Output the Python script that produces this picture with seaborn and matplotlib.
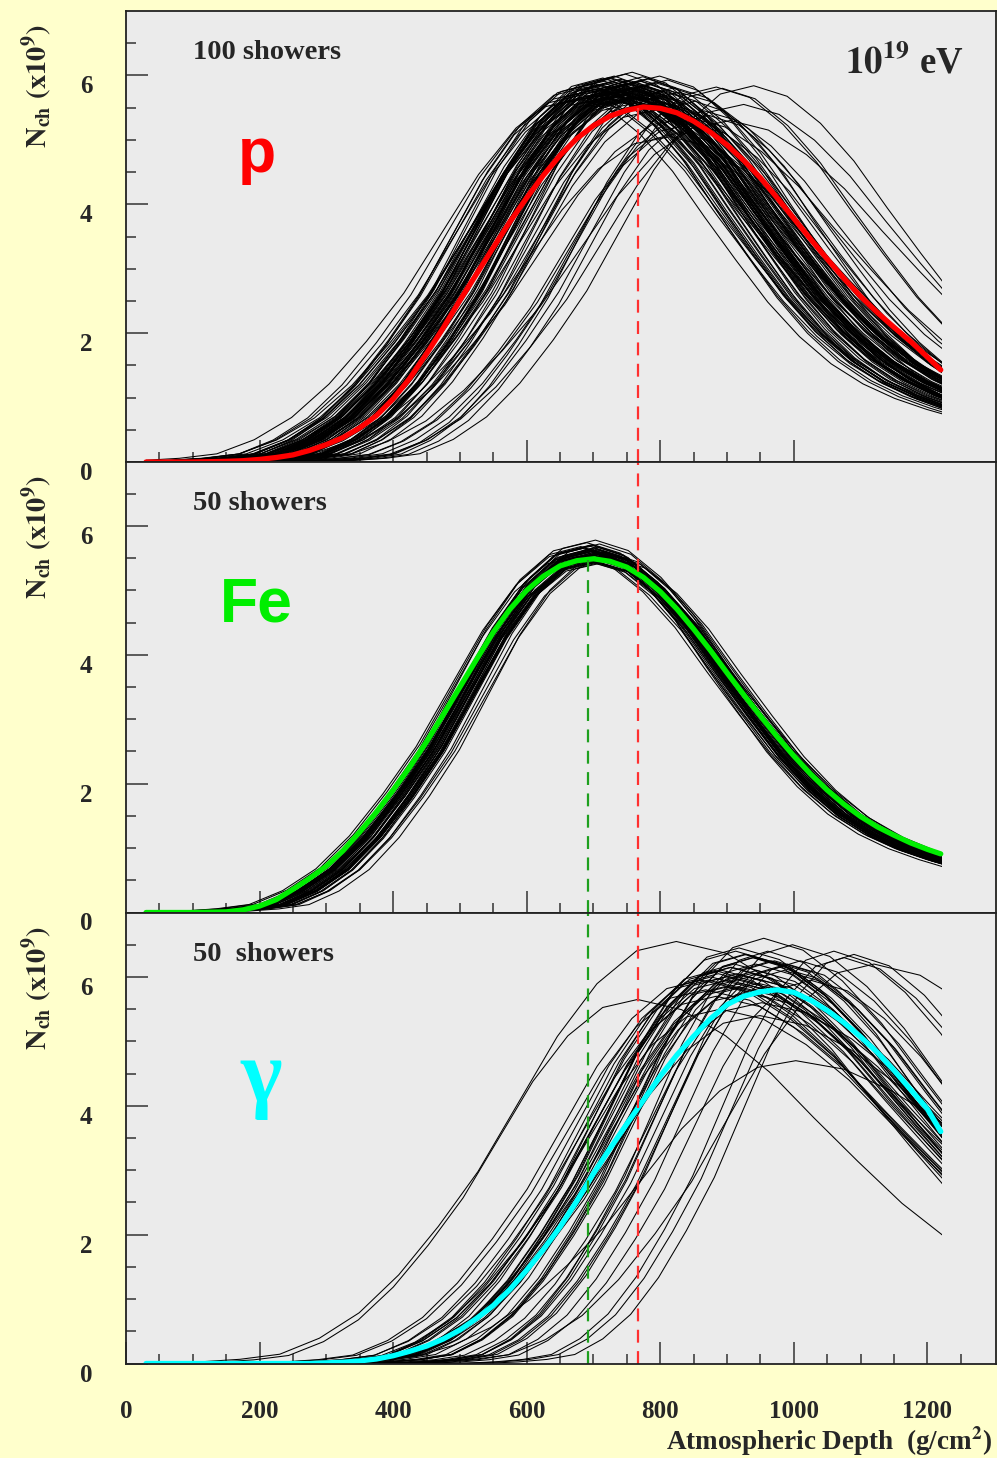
import numpy as np
import pandas as pd
import matplotlib
matplotlib.use("Agg")
import matplotlib.pyplot as plt
import seaborn as sns
from matplotlib.patches import Rectangle

# ---------------- data ----------------
depth = [30, 100, 150, 175, 200, 225, 250, 275, 300, 325, 350, 375, 400, 425, 450, 475,
         500, 525, 550, 575, 600, 625, 650, 675, 700, 725, 750, 775, 800, 825, 850, 875,
         900, 925, 950, 975, 1000, 1025, 1050, 1075, 1100, 1125, 1150, 1175, 1200, 1220]

p_mean = [0.00, 0.00, 0.01, 0.02, 0.04, 0.07, 0.11, 0.18, 0.27, 0.38, 0.53, 0.72, 0.98, 1.30,
          1.68, 2.08, 2.51, 2.92, 3.33, 3.73, 4.10, 4.45, 4.76, 5.02, 5.22, 5.37, 5.46, 5.51,
          5.49, 5.42, 5.29, 5.12, 4.92, 4.68, 4.41, 4.10, 3.78, 3.46, 3.15, 2.85, 2.57, 2.32,
          2.09, 1.87, 1.63, 1.43]

fe_mean = [0.00, 0.00, 0.01, 0.04, 0.10, 0.20, 0.36, 0.53, 0.72, 0.96, 1.25, 1.56, 1.90, 2.26,
           2.65, 3.07, 3.50, 3.93, 4.35, 4.71, 5.00, 5.22, 5.38, 5.46, 5.49, 5.45, 5.36, 5.20,
           4.98, 4.71, 4.40, 4.07, 3.72, 3.38, 3.05, 2.73, 2.43, 2.15, 1.90, 1.68, 1.49, 1.33,
           1.20, 1.08, 0.98, 0.91]

g_mean = [0.00, 0.00, 0.00, 0.00, 0.00, 0.00, 0.00, 0.00, 0.01, 0.02, 0.04, 0.07, 0.12, 0.19,
          0.27, 0.38, 0.52, 0.70, 0.90, 1.15, 1.45, 1.77, 2.12, 2.52, 2.95, 3.34, 3.72, 4.09,
          4.46, 4.79, 5.08, 5.35, 5.57, 5.70, 5.77, 5.80, 5.76, 5.64, 5.48, 5.29, 5.07, 4.83,
          4.55, 4.25, 3.95, 3.60]

# normalised single-shower profile vs. distance from shower maximum
shape_dx = [-900, -850, -800, -750, -700, -650, -600, -550, -500, -450, -400, -350, -300,
            -250, -200, -150, -100, -50, 0, 50, 100, 150, 200, 250, 300, 350, 400, 450,
            500, 550, 600, 650, 700]
shape_s = [0.0, 0.0, 0.0, 0.0, 0.0, 0.001, 0.004, 0.010, 0.022, 0.060, 0.120, 0.210, 0.325,
           0.455, 0.615, 0.775, 0.900, 0.978, 1.000, 0.972, 0.900, 0.800, 0.675, 0.555,
           0.440, 0.345, 0.270, 0.215, 0.175, 0.145, 0.120, 0.100, 0.085]

# per-shower depth of maximum, size at maximum, width factor
p_xmax = [712, 745, 768, 733, 801, 726, 759, 690, 842, 751,
          738, 774, 705, 761, 729, 815, 748, 696, 783, 740,
          756, 721, 866, 737, 770, 708, 792, 744, 727, 905,
          763, 716, 750, 787, 731, 684, 822, 757, 742, 776,
          719, 811, 753, 735, 699, 778, 746, 884, 724, 765,
          739, 797, 710, 758, 852, 730, 772, 743, 688, 807,
          749, 718, 781, 736, 925, 760, 723, 794, 741, 702,
          769, 832, 754, 714, 747, 786, 734, 676, 762, 828,
          743, 706, 775, 873, 732, 752, 719, 799, 766, 738,
          893, 727, 755, 815, 744, 693, 771, 848, 758, 940]
p_nmax = [5.85, 5.70, 5.92, 5.78, 5.60, 5.95, 5.66, 5.82, 5.35, 5.88,
          5.74, 5.98, 5.69, 5.81, 5.90, 5.52, 6.02, 5.76, 5.71, 5.64,
          5.86, 5.72, 5.45, 5.93, 5.67, 5.80, 5.89, 5.58, 5.84, 5.30,
          5.77, 5.91, 5.63, 5.75, 5.99, 5.70, 5.81, 5.87, 5.73, 5.56,
          5.66, 5.93, 5.79, 5.62, 5.88, 5.83, 5.71, 5.82, 5.97, 5.68,
          5.85, 5.47, 5.78, 6.05, 5.60, 5.74, 5.91, 5.80, 5.65, 5.76,
          5.69, 5.87, 5.95, 5.76, 5.55, 5.64, 5.83, 5.70, 5.94, 5.79,
          5.82, 5.12, 5.73, 5.96, 5.61, 5.86, 5.68, 5.64, 5.90, 5.74,
          5.77, 5.72, 5.66, 5.38, 5.89, 5.81, 5.75, 5.99, 5.58, 5.84,
          5.80, 5.63, 5.92, 5.05, 5.70, 5.86, 5.78, 5.25, 5.72, 5.84]
p_w = [0.95, 1.02, 0.90, 1.08, 0.97, 0.93, 1.05, 0.99, 1.10, 0.92,
       1.01, 0.96, 1.07, 0.91, 1.04, 0.98, 0.94, 1.12, 0.89, 1.03,
       0.97, 1.06, 1.00, 0.92, 1.09, 0.95, 1.01, 0.88, 1.05, 1.14,
       0.93, 1.00, 1.08, 0.96, 0.90, 1.03, 0.99, 1.11, 0.94, 1.02,
       1.06, 0.92, 0.98, 1.04, 0.95, 1.07, 0.91, 1.00, 0.97, 1.09,
       0.96, 1.05, 0.93, 1.01, 0.88, 1.10, 0.95, 1.03, 0.99, 0.94,
       1.08, 0.97, 0.90, 1.02, 1.06, 0.93, 1.00, 0.96, 1.04, 0.91,
       0.99, 0.87, 1.07, 0.94, 1.02, 0.98, 1.13, 0.95, 0.92, 1.05,
       1.00, 0.96, 1.09, 0.90, 0.97, 1.04, 0.93, 1.01, 1.06, 0.95,
       0.98, 1.03, 0.91, 1.08, 0.99, 0.94, 1.02, 0.97, 1.05, 1.00]

fe_xmax = [700, 692, 708, 697, 713, 686, 704, 699, 718, 690,
           706, 695, 702, 681, 710, 698, 694, 715, 703, 689,
           707, 700, 725, 693, 705, 696, 711, 684, 701, 709,
           697, 720, 703, 691, 706, 699, 688, 714, 702, 695,
           730, 698, 705, 693, 709, 700, 678, 704, 696, 712]
fe_nmax = [5.55, 5.62, 5.48, 5.70, 5.52, 5.66, 5.58, 5.45, 5.60, 5.74,
           5.50, 5.64, 5.57, 5.68, 5.42, 5.61, 5.53, 5.59, 5.78, 5.47,
           5.63, 5.51, 5.56, 5.69, 5.44, 5.60, 5.54, 5.65, 5.49, 5.72,
           5.58, 5.46, 5.62, 5.55, 5.67, 5.43, 5.59, 5.52, 5.64, 5.57,
           5.50, 5.71, 5.48, 5.61, 5.56, 5.66, 5.53, 5.45, 5.60, 5.58]
fe_w = [0.97, 1.00, 0.95, 1.02, 0.98, 0.94, 1.01, 0.96, 0.99, 1.03,
        0.95, 0.98, 1.00, 0.97, 1.04, 0.96, 0.99, 0.94, 1.01, 0.98,
        0.97, 1.02, 0.93, 0.99, 0.96, 1.00, 0.98, 1.03, 0.95, 0.97,
        1.01, 0.96, 0.99, 0.98, 0.94, 1.02, 0.97, 1.00, 0.95, 0.99,
        0.98, 0.96, 1.03, 0.97, 1.00, 0.95, 0.99, 1.01, 0.96, 0.98]

g_xmax = [905, 938, 872, 961, 915, 824, 990, 947, 882, 926,
          1010, 897, 955, 933, 868, 979, 918, 1060, 902, 944,
          887, 966, 930, 1090, 911, 952, 876, 998, 921, 940,
          1120, 893, 958, 913, 1025, 936, 884, 971, 907, 949,
          862, 929, 985, 899, 1075, 917, 943, 890, 1003, 766]
g_nmax = [6.15, 6.30, 5.95, 6.40, 6.05, 6.55, 6.20, 5.90, 6.10, 6.35,
          6.25, 5.85, 6.60, 6.00, 5.80, 6.15, 6.45, 6.40, 5.95, 6.10,
          6.05, 6.25, 5.75, 6.35, 6.20, 5.60, 6.00, 6.50, 5.90, 6.30,
          6.20, 6.10, 5.85, 6.40, 5.95, 6.05, 5.70, 6.25, 6.15, 5.40,
          5.95, 6.35, 6.10, 6.00, 6.30, 5.85, 6.20, 5.50, 4.70, 5.65]
g_w = [1.00, 0.95, 1.05, 0.90, 1.02, 1.25, 0.93, 1.08, 0.97, 1.00,
       0.92, 1.06, 0.98, 1.03, 1.10, 0.94, 1.01, 0.89, 1.07, 0.96,
       1.04, 0.91, 1.09, 0.88, 0.99, 1.12, 1.02, 0.93, 1.05, 0.97,
       1.15, 1.03, 0.95, 1.00, 0.92, 1.06, 1.08, 0.94, 1.01, 1.15,
       1.10, 0.98, 0.93, 1.04, 0.90, 1.02, 0.96, 1.07, 1.20, 1.10]

rise_fall = {"p": (1.0, 1.0), "Fe": (0.97, 0.97), "g": (0.95, 1.2)}

p_mark, p_peak = 767, 5.50
fe_mark, fe_peak = 692, 5.47

labels_n = ["100 showers", "50 showers", "50  showers"]

# ---------------- style ----------------
FIG_BG = "#ffffcc"
AX_BG = "#ebebeb"
sns.set_style("ticks")
plt.rcParams["font.family"] = ["Liberation Serif", "DejaVu Serif"]
plt.rcParams["font.weight"] = "bold"
plt.rcParams["mathtext.fontset"] = "stix"
plt.rcParams["mathtext.default"] = "bf"
plt.rcParams["axes.linewidth"] = 1.2


def shower_frame(xmax, nmax, w, key):
    r, f = rise_fall[key]
    dx = np.array(shape_dx, float)
    s = np.array(shape_s, float)
    frames = []
    for i, (X, Nm, wi) in enumerate(zip(xmax, nmax, w)):
        scale = np.where(dx < 0, r, f) * wi
        frames.append(pd.DataFrame({"depth": X + dx * scale, "N": Nm * s, "shower": i}))
    return pd.concat(frames, ignore_index=True)


fig = plt.figure(figsize=(9.97, 14.58), dpi=100, facecolor=FIG_BG)
left, width = 126 / 997, 869.5 / 997
tops = [11, 461.5, 912.5]
h = 451 / 1458
axes = []
for t in tops:
    axes.append(fig.add_axes([left, 1 - (t / 1458) - h, width, h]))

panels = [
    (p_xmax, p_nmax, p_w, "p", p_mean, "#ff0000"),
    (fe_xmax, fe_nmax, fe_w, "Fe", fe_mean, "#00ee00"),
    (g_xmax, g_nmax, g_w, "g", g_mean, "#00ffff"),
]

for k, (ax, (xm, nm, ww, key, mean, col)) in enumerate(zip(axes, panels)):
    ax.set_facecolor(AX_BG)
    df = shower_frame(xm, nm, ww, key)
    sns.lineplot(data=df, x="depth", y="N", units="shower", estimator=None, sort=False,
                 color="black", lw=0.75, ax=ax, legend=False)
    clip = Rectangle((30, -1), 1192, 10, transform=ax.transData)
    for ln in ax.lines:
        ln.set_clip_path(clip)
    sns.lineplot(x=depth, y=mean, color=col, lw=3.8, ax=ax, sort=False,
                 estimator=None, legend=False)
    ax.set_xlim(0, 1302)
    ax.set_ylim(0, 7)
    ax.set_xlabel("")

    # ticks
    ax.set_yticks([0, 2, 4, 6])
    ax.set_yticks([v / 2 for v in range(1, 14) if v % 4 != 0], minor=True)
    if k < 2:
        ax.set_xticks([200, 400, 600, 800, 1000])
        ax.set_xticks([v for v in range(50, 1001, 50) if v % 200 != 0], minor=True)
        ax.set_xticklabels([])
    else:
        ax.set_xticks([0, 200, 400, 600, 800, 1000, 1200])
        ax.set_xticks([v for v in range(50, 1251, 50) if v % 200 != 0], minor=True)
    ax.tick_params(axis="both", which="major", direction="in", length=15.5, width=1.1,
                   color="#333333", labelsize=18)
    ax.tick_params(axis="both", which="minor", direction="in", length=7.5, width=1.1,
                   color="#333333")
    ax.tick_params(axis="y", pad=24)
    ax.tick_params(axis="x", pad=26)
    ax.set_yticklabels(["0", "2", "4", "6"])
    for lbl in ax.get_yticklabels():
        lbl.set_va("top")
    for sp in ax.spines.values():
        sp.set_visible(True)
        sp.set_color("#222222")
        sp.set_linewidth(1.3)

    ax.set_ylabel(r"$\mathbf{N_{ch}\ (x10^{9})}$", fontsize=20.5, va="center", ha="center")
    ax.yaxis.set_label_coords(-0.1018, 0.833)

    ax.text(0.077, 0.8935, labels_n[k], transform=ax.transAxes, fontsize=20.5,
            fontweight="bold", ha="left", va="baseline")

# dashed X_max markers
dkw = dict(lw=1.6, linestyles=[(0, (5.8, 3.8))])
axes[0].vlines(p_mark, 0, p_peak, color="#ff3030", **dkw)
axes[1].vlines(p_mark, 0, 7, color="#ff3030", **dkw)
axes[1].vlines(fe_mark, 0, fe_peak, color="#1ea01e", **dkw)
axes[2].vlines(p_mark, 0, 7, color="#ff3030", **dkw)
axes[2].vlines(fe_mark, 0, 7, color="#1ea01e", **dkw)

# primary labels
axes[0].text(0.151, 0.6426, "p", transform=axes[0].transAxes, color="#ff0000",
             fontsize=45, fontweight="bold", family="Liberation Sans", ha="center",
             va="baseline")
axes[1].text(0.108, 0.6455, "Fe", transform=axes[1].transAxes, color="#00ee00",
             fontsize=45, fontweight="bold", family="Liberation Sans", ha="left",
             va="baseline")
axes[2].text(0.155, 0.630, "γ", transform=axes[2].transAxes, color="#00ffff",
             fontsize=64, fontweight="bold", family="Liberation Serif", ha="center",
             va="center")

axes[0].text(0.963, 0.862, r"$\mathbf{10^{19}}$ eV", transform=axes[0].transAxes,
             fontsize=26.5, fontweight="bold", ha="right", va="baseline")

axes[2].set_xlabel(r"Atmospheric Depth  (g/cm$^{\mathbf{2}}$)", fontsize=19.5,
                   fontweight="bold", ha="right", va="baseline")
axes[2].xaxis.set_label_coords(0.9965, -0.191)

fig.savefig("out.png", dpi=100, facecolor=FIG_BG)
